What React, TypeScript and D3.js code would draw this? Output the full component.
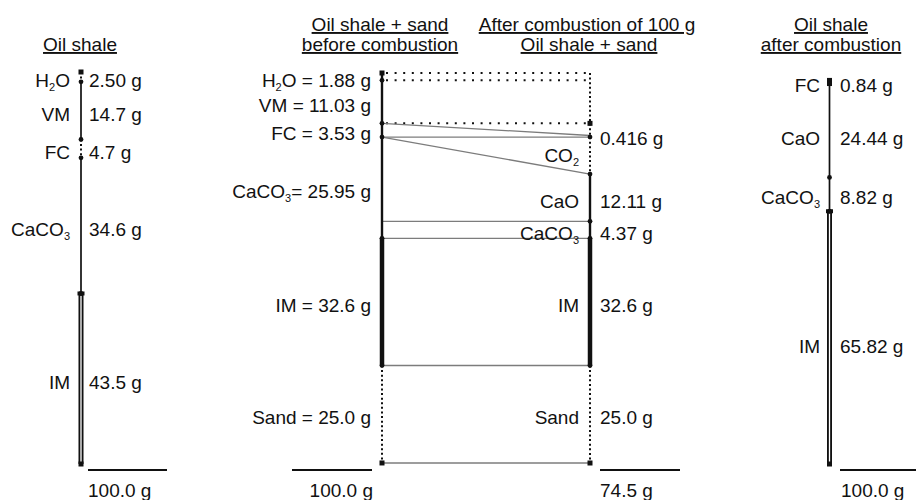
import React from 'react'
import * as d3 from 'd3'

const W = 916
const H = 500

// raw oil shale
const shaleNames = ['H2O', 'VM', 'FC', 'CaCO3', 'IM']
const shaleGrams = ['2.50', '14.7', '4.7', '34.6', '43.5']

// oil shale + sand, before combustion
const mixNames = ['H2O', 'VM', 'FC', 'CaCO3', 'IM', 'Sand']
const mixGrams = ['1.88', '11.03', '3.53', '25.95', '32.6', '25.0']

// after combustion of 100 g oil shale + sand (solids, stacked from the bottom)
const burntNames = ['CaO', 'CaCO3', 'IM', 'Sand']
const burntGrams = ['12.11', '4.37', '32.6', '25.0']
// fixed carbon left over
const burntFC = '0.416'

// oil shale after combustion
const ashNames = ['FC', 'CaO', 'CaCO3', 'IM']
const ashGrams = ['0.84', '24.44', '8.82', '65.82']

const totals = ['100.0 g', '100.0 g', '74.5 g', '100.0 g']

const FONT = '"Liberation Sans", Arial, Helvetica, sans-serif'
const INK = '#111'
const GREY = '#7c7c7c'

const colX = [81, 382, 590, 829.5]

const yShale = d3.scaleLinear().domain([0, 100]).range([72, 464])
const yMix = d3.scaleLinear().domain([0, 100]).range([73, 463])
const yAsh = d3.scaleLinear().domain([0, 100]).range([80, 464])

type Seg = { name: string; label: string; y0: number; y1: number }

// stack from the top of the scale
const stackTop = (names: string[], grams: string[], y) => {
  let acc = 0
  return names.map((name, i) => {
    const v = +grams[i]
    const s = { name, label: grams[i], y0: y(acc), y1: y(acc + v) }
    acc += v
    return s
  })
}

// stack upward from the bottom (100 g) of the scale
const stackBottom = (names: string[], grams: string[], y) => {
  let acc = 100
  const out: Seg[] = []
  for (let i = names.length - 1; i >= 0; i--) {
    const v = +grams[i]
    out.unshift({ name: names[i], label: grams[i], y0: y(acc - v), y1: y(acc) })
    acc -= v
  }
  return out
}

const shale = stackTop(shaleNames, shaleGrams, yShale)
const mix = stackTop(mixNames, mixGrams, yMix)
const burnt = stackBottom(burntNames, burntGrams, yMix)
const ash = stackBottom(ashNames, ashGrams, yAsh)

const seg = (arr: Seg[], n: string) => arr.find((d) => d.name === n)!

// the remaining FC sits at the bottom of the original FC band
const fcMix = seg(mix, 'FC')
const fcBurnt: Seg = {
  name: 'FC',
  label: burntFC,
  y0: fcMix.y1 - (yMix(+burntFC) - yMix(0)),
  y1: fcMix.y1,
}

function Chem({ name, rest = '' }: { name: string; rest?: string }) {
  const m = name.match(/^(\D+)(\d)(.*)$/)
  if (!m) return <>{name + rest}</>
  const tail = m[3] + rest
  return (
    <>
      {m[1]}
      <tspan fontSize={11} dy={4}>
        {m[2]}
      </tspan>
      {tail && <tspan dy={-4}>{tail}</tspan>}
    </>
  )
}

function VSeg({ x, y0, y1, kind }: { x: number; y0: number; y1: number; kind: string }) {
  if (kind === 'double')
    return (
      <g>
        <line x1={x} x2={x} y1={y0} y2={y1} stroke={INK} strokeWidth={5} />
        <line x1={x} x2={x} y1={y0 + 2} y2={y1 - 2} stroke="#fff" strokeWidth={1.3} />
        <rect x={x - 3.5} y={y0 - 2} width={7} height={4} fill={INK} />
      </g>
    )
  if (kind === 'block') {
    const c = (y0 + y1) / 2
    return <rect x={x - 2.5} y={c - 4} width={5} height={8} fill={INK} />
  }
  const w = kind === 'thick' ? 4.5 : kind === 'bold' ? 2.4 : kind === 'dot' ? 2 : 1.7
  return (
    <line
      x1={x}
      x2={x}
      y1={y0}
      y2={y1}
      stroke={INK}
      strokeWidth={w}
      strokeDasharray={kind === 'dot' ? '2,2.6' : undefined}
    />
  )
}

function Marks({ x, ys }: { x: number; ys: number[] }) {
  return (
    <g fill={INK}>
      {ys.map((y, i) =>
        i === 0 || i === ys.length - 1 ? (
          <rect key={i} x={x - 2.5} y={y - 2.5} width={5} height={5} />
        ) : (
          <circle key={i} cx={x} cy={y} r={2.4} />
        )
      )}
    </g>
  )
}

const shaleStyle = { H2O: 'dot', VM: 'solid', FC: 'dot', CaCO3: 'solid', IM: 'double' }
const mixStyle = { H2O: 'bold', VM: 'bold', FC: 'bold', CaCO3: 'bold', IM: 'thick', Sand: 'dot' }
const burntStyle = { CaO: 'bold', CaCO3: 'bold', IM: 'thick', Sand: 'dot' }
const ashStyle = { FC: 'block', CaO: 'solid', CaCO3: 'solid', IM: 'double' }

const labelY = (d: Seg) => (d.y0 + d.y1) / 2 + 10

export default function App() {
  const [x0, x1, x2, x3] = colX
  const caoBurnt = seg(burnt, 'CaO')
  const caco3Mix = seg(mix, 'CaCO3')

  const dotted = [mix[0].y0, mix[0].y1, seg(mix, 'VM').y1]
  const grey: [number, number][] = [
    [fcMix.y0, fcBurnt.y0],
    [fcMix.y1, fcBurnt.y1],
    [caco3Mix.y0, caoBurnt.y0],
    ...burnt.map((d) => [d.y1, d.y1] as [number, number]),
  ]

  const title = (x: number, y: number, t: string) => (
    <text x={x} y={y} textAnchor="middle" style={{ textDecoration: 'underline' }}>
      {t}
    </text>
  )

  return (
    <svg
      width={W}
      height={H}
      style={{ position: 'absolute', left: 0, top: 0, background: '#fff' }}
      fontFamily={FONT}
      fontSize={19}
      fill={INK}
    >
      {/* titles */}
      {title(80, 51, 'Oil shale')}
      {title(380, 31, 'Oil shale + sand')}
      {title(380, 51, 'before combustion')}
      {title(587, 31, 'After combustion of 100 g')}
      {title(589, 51, 'Oil shale + sand')}
      {title(831, 31, 'Oil shale')}
      {title(831, 51, 'after combustion')}

      {/* connectors between the two middle columns */}
      {dotted.map((y, i) => (
        <line key={'d' + i} x1={x1 + 4} x2={x2} y1={y} y2={y} stroke={INK} strokeWidth={2} strokeDasharray="2,6.6" />
      ))}
      {grey.map(([a, b], i) => (
        <line key={'g' + i} x1={x1} x2={x2} y1={a} y2={b} stroke={GREY} strokeWidth={1.3} />
      ))}

      {/* oil shale */}
      {shale.map((d) => (
        <VSeg key={d.name} x={x0} y0={d.y0} y1={d.y1} kind={shaleStyle[d.name]} />
      ))}
      <Marks x={x0} ys={[shale[0].y0, ...shale.map((d) => d.y1)]} />
      {shale.map((d) => (
        <g key={'l' + d.name}>
          <text x={x0 - 11} y={labelY(d)} textAnchor="end">
            <Chem name={d.name} />
          </text>
          <text x={x0 + 8} y={labelY(d)}>{d.label} g</text>
        </g>
      ))}

      {/* oil shale + sand before */}
      {mix.map((d) => (
        <VSeg key={d.name} x={x1} y0={d.y0} y1={d.y1} kind={mixStyle[d.name]} />
      ))}
      <Marks x={x1} ys={[mix[0].y0, ...mix.map((d) => d.y1)]} />
      {mix.map((d) => (
        <text key={'l' + d.name} x={x1 - 11} y={labelY(d)} textAnchor="end">
          <Chem name={d.name} rest={(/\d$/.test(d.name) ? '= ' : ' = ') + d.label + ' g'} />
        </text>
      ))}

      {/* after combustion */}
      <VSeg x={x2} y0={mix[0].y0} y1={fcBurnt.y0} kind="dot" />
      <VSeg x={x2} y0={fcBurnt.y0} y1={fcBurnt.y1} kind="bold" />
      <VSeg x={x2} y0={fcBurnt.y1} y1={caoBurnt.y0} kind="dot" />
      {burnt.map((d) => (
        <VSeg key={d.name} x={x2} y0={d.y0} y1={d.y1} kind={burntStyle[d.name]} />
      ))}
      <Marks x={x2} ys={[dotted[2], fcBurnt.y1, ...burnt.map((d) => d.y0), burnt[burnt.length - 1].y1]} />
      <text x={x2 - 11} y={(fcBurnt.y1 + caoBurnt.y0) / 2 + 6} textAnchor="end">
        <Chem name="CO2" />
      </text>
      <text x={x2 + 10} y={labelY(fcBurnt) - 1}>{fcBurnt.label} g</text>
      {burnt.map((d) => (
        <g key={'l' + d.name}>
          <text x={x2 - 11} y={labelY(d)} textAnchor="end">
            <Chem name={d.name} />
          </text>
          <text x={x2 + 10} y={labelY(d)}>{d.label} g</text>
        </g>
      ))}

      {/* oil shale after combustion */}
      {ash.map((d) => (
        <VSeg key={d.name} x={x3} y0={d.y0} y1={d.y1} kind={ashStyle[d.name]} />
      ))}
      <Marks x={x3} ys={ash.slice(1).map((d) => d.y0).concat([ash[ash.length - 1].y1])} />
      {ash.map((d) => (
        <g key={'l' + d.name}>
          <text x={x3 - 9.5} y={labelY(d) + (d.name === 'FC' || d.name === 'CaCO3' ? 0 : 5)} textAnchor="end">
            <Chem name={d.name} />
          </text>
          <text x={x3 + 10.5} y={labelY(d) + (d.name === 'FC' || d.name === 'CaCO3' ? 0 : 5)}>{d.label} g</text>
        </g>
      ))}

      {/* totals */}
      <line x1={88} x2={167} y1={470} y2={470} stroke={INK} strokeWidth={2} />
      <text x={88} y={497}>{totals[0]}</text>
      <line x1={292} x2={372} y1={470} y2={470} stroke={INK} strokeWidth={2} />
      <text x={373} y={497} textAnchor="end">{totals[1]}</text>
      <line x1={600} x2={680} y1={470} y2={470} stroke={INK} strokeWidth={2} />
      <text x={600} y={497}>{totals[2]}</text>
      <line x1={840} x2={916} y1={470} y2={470} stroke={INK} strokeWidth={2} />
      <text x={841} y={497}>{totals[3]}</text>
    </svg>
  )
}
